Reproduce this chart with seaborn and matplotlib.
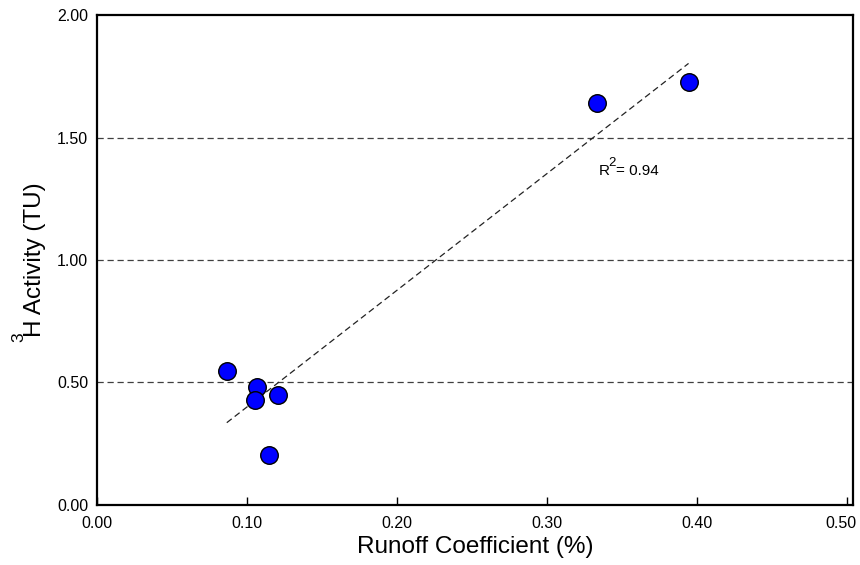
import matplotlib
matplotlib.use("Agg")
import matplotlib.pyplot as plt
import matplotlib.transforms as mtransforms
import seaborn as sns
import numpy as np
import pandas as pd

runoff = [0.0867, 0.1067, 0.1058, 0.1207, 0.1149, 0.3333, 0.3944]
tritium = [0.547, 0.480, 0.428, 0.447, 0.204, 1.641, 1.727]
x_ticks = [0.0, 0.1, 0.2, 0.3, 0.4, 0.5]
y_ticks = [0.0, 0.5, 1.0, 1.5, 2.0]
grid_levels = [0.5, 1.0, 1.5]
r2_value = "0.94"

sns.set_theme(style="white")
plt.rcParams['font.family'] = ['Liberation Sans', 'DejaVu Sans']

df = pd.DataFrame({"runoff": runoff, "tritium": tritium})

fig = plt.figure(figsize=(8.6, 5.65), dpi=100)
ax = fig.add_axes([0.1124, 0.1069, 0.8795, 0.8658])

for g in grid_levels:
    ax.axhline(g, color="#404040", linestyle=(0, (5, 3)), linewidth=0.9, zorder=1)

sns.regplot(data=df, x="runoff", y="tritium", ax=ax, scatter=False, ci=None,
            truncate=True, line_kws=dict(color="#222222", linestyle=(0, (5, 3)),
                                         linewidth=0.9, zorder=2))
sns.scatterplot(data=df, x="runoff", y="tritium", ax=ax, s=160, color="#0000ff",
                edgecolor="black", linewidth=1.0, zorder=3)

# R^2 annotation built from pieces (raised superscript like the original)
anchor = (0.3344, 1.347)
ax.annotate("R", xy=anchor, xycoords="data", fontsize=11, color="black",
            ha="left", va="baseline")
ax.annotate("2", xy=anchor, xycoords="data", xytext=(7.4, 6.8),
            textcoords="offset points", fontsize=9.5, color="black",
            ha="left", va="baseline")
ax.annotate("= " + r2_value, xy=anchor, xycoords="data", xytext=(12.6, 0),
            textcoords="offset points", fontsize=11, color="black",
            ha="left", va="baseline")

ax.set_xlim(0, 0.504)
ax.set_ylim(0, 2.0)
ax.set_xticks(x_ticks)
ax.set_yticks(y_ticks)
ax.set_xticklabels([f"{v:.2f}" for v in x_ticks], fontsize=11.5)
ax.set_yticklabels([f"{v:.2f}" for v in y_ticks], fontsize=11.5)
ax.tick_params(axis="x", direction="in", length=6, width=1, pad=8, colors="black",
               labelcolor="black", bottom=True)
ax.tick_params(axis="y", length=0, pad=6, labelcolor="black", left=True)
ax.set_xlabel("Runoff Coefficient (%)", fontsize=17.5, color="black", labelpad=4)
ylab = ax.set_ylabel("H Activity (TU)", fontsize=17.5, color="black", labelpad=8)
for s in ax.spines.values():
    s.set_color("black")
    s.set_linewidth(1.6)
    s.set_visible(True)

# nudge the last x tick label inward, as in the original
last = ax.get_xticklabels()[-1]
last.set_transform(last.get_transform() +
                   mtransforms.ScaledTranslation(-6 / 100, 0, fig.dpi_scale_trans))

# superscript "3" for the rotated y label
fig.canvas.draw()
bb = ylab.get_window_extent(renderer=fig.canvas.get_renderer())
fig.text((bb.x0 - 13) / fig.bbox.width, (bb.y0 - 5) / fig.bbox.height, "3",
         fontsize=12.5, rotation=90, color="black", ha="left", va="bottom")

fig.savefig("out.png", dpi=100)
